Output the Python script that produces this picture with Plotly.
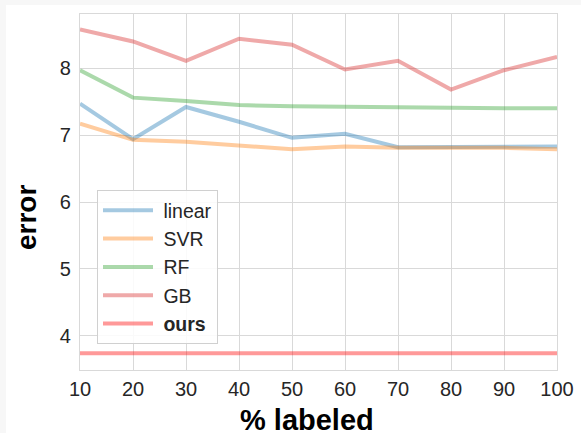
import plotly.graph_objects as go

labeled = [10, 20, 30, 40, 50, 60, 70, 80, 90, 100]
linear = [7.47, 6.94, 7.42, 7.20, 6.96, 7.02, 6.82, 6.82, 6.83, 6.83]
svr = [7.17, 6.93, 6.90, 6.84, 6.79, 6.83, 6.81, 6.81, 6.81, 6.79]
rf = [7.97, 7.56, 7.51, 7.45, 7.43, 7.42, 7.42, 7.40, 7.40, 7.40]
gb = [8.58, 8.40, 8.11, 8.44, 8.35, 7.98, 8.11, 7.68, 7.97, 8.17]
ours = [3.74] * len(labeled)

series = [
    ("linear", linear, "rgba(31,119,180,0.4)"),
    ("SVR", svr, "rgba(255,127,14,0.4)"),
    ("RF", rf, "rgba(44,160,44,0.4)"),
    ("GB", gb, "rgba(214,39,40,0.4)"),
    ("<b>ours</b>", ours, "rgba(255,0,0,0.4)"),
]

fig = go.Figure()
for i, (name, vals, col) in enumerate(series):
    fig.add_trace(go.Scatter(x=labeled, y=vals, mode="lines", name="\u00a0" + name,
                             line=dict(color=col, width=4), legendgroup=f"g{i}"))

W, H = 581, 433
L, R, T, B = 80, 24, 14, 63
pw, ph = W - L - R, H - T - B

def px2x(px):
    return (px - L) / pw

def px2y(py):
    return (H - B - py) / ph

gridc = "#d9d9d9"
fig.update_layout(
    width=W, height=H,
    margin=dict(l=L, r=R, t=T, b=B, autoexpand=False),
    paper_bgcolor="white", plot_bgcolor="white",
    font=dict(family="Liberation Sans, Arial, sans-serif", color="#262626"),
    showlegend=True,
    legend=dict(x=px2x(97), y=px2y(190), xanchor="left", yanchor="top",
                bgcolor="rgba(255,255,255,0.85)", bordercolor="#d0d0d0", borderwidth=1,
                font=dict(size=19.5, color="#262626"), tracegroupgap=0,
                itemwidth=50, entrywidth=120),
    xaxis=dict(range=[10, 100], tickvals=labeled, ticktext=[str(v) for v in labeled],
               showgrid=True, gridcolor=gridc, gridwidth=1.2, zeroline=False,
               showline=True, linecolor=gridc, linewidth=1.2, mirror=True, automargin=False,
               tickfont=dict(size=20, color="#262626"), ticks="", ticklabelstandoff=1),
    yaxis=dict(range=[3.49, 8.81], tickvals=[4, 5, 6, 7, 8],
               showgrid=True, gridcolor=gridc, gridwidth=1.2, zeroline=False,
               showline=True, linecolor=gridc, linewidth=1.2, mirror=True, automargin=False,
               tickfont=dict(size=20, color="#262626"), ticks="", ticklabelstandoff=4),
    annotations=[
        dict(text="<b>% labeled</b>", x=px2x(307), y=px2y(420), xref="paper", yref="paper",
             showarrow=False, font=dict(size=29, color="black"), xanchor="center", yanchor="middle"),
        dict(text="<b>error</b>", x=px2x(26), y=px2y(218), xref="paper", yref="paper",
             showarrow=False, textangle=-90, font=dict(size=28, color="black"),
             xanchor="center", yanchor="middle"),
    ],
    shapes=[
        dict(type="rect", xref="paper", yref="paper", x0=px2x(-5), x1=px2x(W + 5),
             y0=px2y(5), y1=px2y(-5), fillcolor="#f7f7f7", line=dict(width=0), layer="below"),
        dict(type="rect", xref="paper", yref="paper", x0=px2x(-5), x1=px2x(6),
             y0=px2y(H + 5), y1=px2y(-5), fillcolor="#f7f7f7", line=dict(width=0), layer="below"),
    ],
)

fig.write_html("out.html", config={"displayModeBar": False},
               post_script="document.body.style.margin='0';")
